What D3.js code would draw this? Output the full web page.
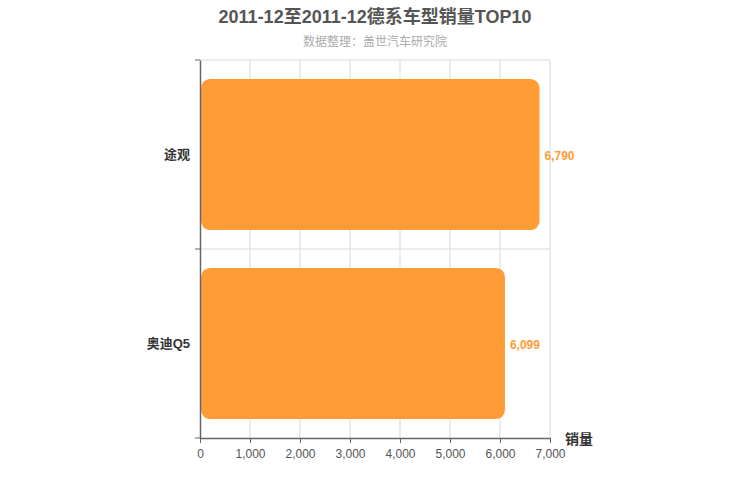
<!DOCTYPE html>
<html lang="zh">
  <head>
    <meta charset="UTF-8" />
    <title>德系车型销量TOP10</title>
    <style>
      body { margin: 0; background: #fff; }
      svg { font-family: "Liberation Sans", Arial, "Noto Sans CJK SC", sans-serif; }
    </style>
  </head>
  <body>
    <svg width="750" height="500"></svg>

    <script src="https://d3js.org/d3.v7.min.js"></script>
    <script>
      const categories = ["途观", "奥迪Q5"];
      const sales = [6790, 6099];
      const xTicks = [0, 1000, 2000, 3000, 4000, 5000, 6000, 7000];

      const margin = { top: 60, right: 200, bottom: 62, left: 200 };
      const width = 750 - margin.left - margin.right;
      const height = 500 - margin.top - margin.bottom;

      const svg = d3.select("svg");

      // Titles
      svg.append("text")
        .attr("x", 375).attr("y", 23)
        .attr("text-anchor", "middle")
        .style("font-size", "18px").style("font-weight", "bold")
        .style("fill", "#555")
        .text("2011-12至2011-12德系车型销量TOP10");

      svg.append("text")
        .attr("x", 375).attr("y", 46)
        .attr("text-anchor", "middle")
        .style("font-size", "12px")
        .style("fill", "#aaa")
        .text("数据整理：盖世汽车研究院");

      const g = svg.append("g")
        .attr("transform", `translate(${margin.left},${margin.top})`);

      const x = d3.scaleLinear().domain([0, 7000]).range([0, width]);
      const y = d3.scaleBand().domain(categories).range([0, height]).paddingInner(0.2).paddingOuter(0.1);
      const yBand = d3.scaleBand().domain(categories).range([0, height]);

      // Grid
      g.append("g")
        .selectAll("line")
        .data(xTicks.slice(1))
        .join("line")
        .attr("x1", (d) => x(d)).attr("x2", (d) => x(d))
        .attr("y1", 0).attr("y2", height)
        .attr("stroke", "#d9d9d9");

      g.append("g")
        .selectAll("line")
        .data(categories)
        .join("line")
        .attr("x1", 0).attr("x2", width)
        .attr("y1", (d) => yBand(d)).attr("y2", (d) => yBand(d))
        .attr("stroke", "#d9d9d9");

      // Bars
      g.selectAll(".bar")
        .data(categories)
        .join("rect")
        .attr("class", "bar")
        .attr("x", 1)
        .attr("y", (d) => y(d))
        .attr("width", (d, i) => x(sales[i]) - 1)
        .attr("height", y.bandwidth())
        .attr("rx", 9)
        .attr("fill", "#ff9c35");

      // Value labels
      g.selectAll(".val")
        .data(categories)
        .join("text")
        .attr("class", "val")
        .attr("x", (d, i) => x(sales[i]) + 5)
        .attr("y", (d) => y(d) + y.bandwidth() / 2 + 1)
        .attr("dy", "0.35em")
        .style("font-size", "12px").style("font-weight", "bold")
        .style("fill", "#ff9c35")
        .text((d, i) => d3.format(",")(sales[i]));

      // X axis
      const xAxis = g.append("g")
        .attr("transform", `translate(0,${height})`)
        .call(d3.axisBottom(x).tickValues(xTicks).tickFormat(d3.format(",")).tickSize(5).tickPadding(6).tickSizeOuter(0));
      xAxis.select(".domain").attr("stroke", "#666").attr("stroke-width", 1.5);
      xAxis.selectAll(".tick line").attr("stroke", "#666");
      xAxis.selectAll("text")
        .style("font-size", "12px").style("fill", "#555")
        .style("font-family", "'Liberation Sans', Arial, sans-serif");

      // Y axis
      const yAxis = g.append("g")
        .call(d3.axisLeft(yBand).tickSize(0).tickPadding(10).tickSizeOuter(0));
      yAxis.select(".domain").attr("stroke", "#666").attr("stroke-width", 1.5);
      yAxis.selectAll("text")
        .style("font-size", "13px").style("font-weight", "bold").style("fill", "#333")
        .style("font-family", "'Liberation Sans', Arial, 'Noto Sans CJK SC', sans-serif");

      // Band boundary ticks on y axis
      g.append("g")
        .selectAll("line")
        .data([0, ...categories.map((c) => yBand(c) + yBand.bandwidth())])
        .join("line")
        .attr("x1", -5).attr("x2", 0)
        .attr("y1", (d) => d).attr("y2", (d) => d)
        .attr("stroke", "#666");

      // Axis name
      g.append("text")
        .attr("x", width + 15).attr("y", height + 6)
        .style("font-size", "14px").style("font-weight", "bold").style("fill", "#333")
        .text("销量");
    </script>
  </body>
</html>
